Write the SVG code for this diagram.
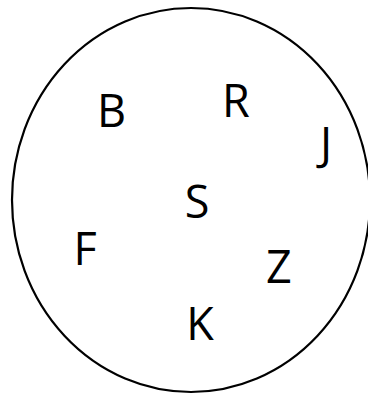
<svg xmlns="http://www.w3.org/2000/svg" width="368" height="395" viewBox="0 0 368 395">
<style>
.lbl{font-family:"Open Sans","Noto Sans",sans-serif;font-size:45px;fill:#000;text-anchor:middle}
.ring{fill:none;stroke:#000;stroke-width:2.2}
</style>
<rect width="368" height="395" fill="#fff"/>
<g id="set"><ellipse class="ring" cx="191" cy="200" rx="179" ry="192"/></g>
<g id="connectors"></g>
<g id="nB"><text class="lbl" x="111.5" y="127">B</text></g>
<g id="nR"><text class="lbl" x="236" y="117">R</text></g>
<g id="nJ"><text class="lbl" x="326" y="160">J</text></g>
<g id="nS"><text class="lbl" x="197" y="218">S</text></g>
<g id="nF"><text class="lbl" x="85" y="265">F</text></g>
<g id="nZ"><text class="lbl" x="279" y="283">Z</text></g>
<g id="nK"><text class="lbl" x="200" y="340">K</text></g>
</svg>
